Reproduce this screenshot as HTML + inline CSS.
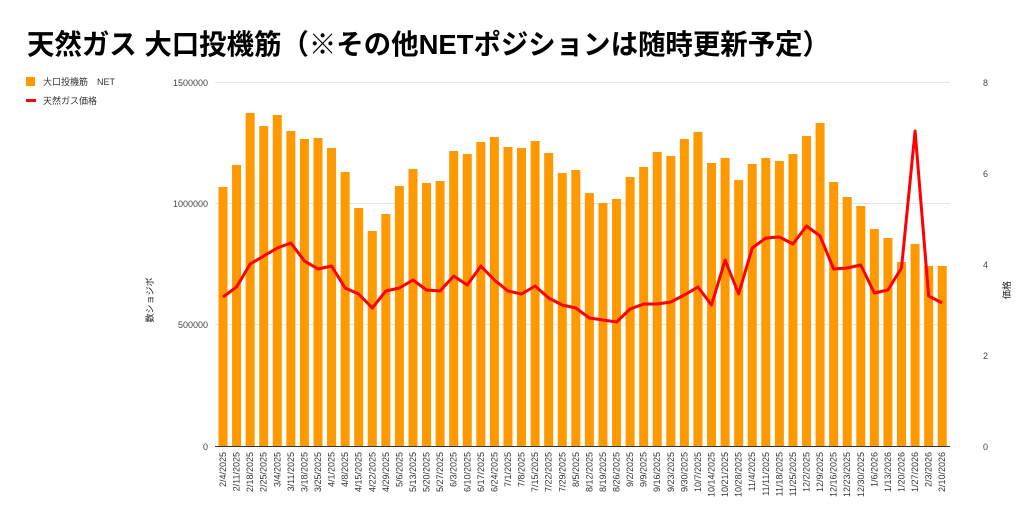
<!DOCTYPE html>
<html><head><meta charset="utf-8"><style>
html,body{margin:0;padding:0;background:#fff;}
svg{display:block;font-family:"Liberation Sans","Noto Sans CJK JP",sans-serif;}
</style></head><body>
<svg width="1024" height="527" viewBox="0 0 1024 527" xmlns="http://www.w3.org/2000/svg">
<text x="27" y="54" font-size="28" font-weight="bold" fill="#000" textLength="803" lengthAdjust="spacingAndGlyphs">天然ガス 大口投機筋（※その他NETポジションは随時更新予定）</text>
<rect x="26" y="77" width="9" height="9" fill="#ff9900"/>
<text x="43" y="85" font-size="9" fill="#333">大口投機筋　NET</text>
<rect x="26" y="99" width="10" height="3" fill="#ff0000"/>
<text x="43" y="104" font-size="9" fill="#333">天然ガス価格</text>
<g stroke="#e6e6e6" stroke-width="1">
<line x1="215" y1="82.5" x2="950" y2="82.5"/>
<line x1="215" y1="203.5" x2="950" y2="203.5"/>
<line x1="215" y1="324.5" x2="950" y2="324.5"/>
</g>
<line x1="215" y1="446.5" x2="950" y2="446.5" stroke="#333" stroke-width="1"/>
<g font-size="9" fill="#444" text-anchor="end">
<text x="208" y="86">1500000</text>
<text x="208" y="207">1000000</text>
<text x="208" y="328">500000</text>
<text x="208" y="450">0</text>
</g>
<g font-size="9" fill="#444">
<text x="983" y="86">8</text>
<text x="983" y="177">6</text>
<text x="983" y="268">4</text>
<text x="983" y="359">2</text>
<text x="983" y="450">0</text>
</g>
<text transform="translate(153,300) rotate(-90)" font-size="9" fill="#222" text-anchor="middle">数ショジボ</text>
<text transform="translate(1010,290) rotate(-90)" font-size="9" fill="#222" text-anchor="middle">価格</text>
<g id="bars" fill="#ff9900"></g>
<g id="labels" font-size="9" fill="#333"></g>
<polyline id="line" fill="none" stroke="#ff0000" stroke-width="3" stroke-linejoin="round"/>
</svg>
<script>
var dates="2/4/2025,2/11/2025,2/18/2025,2/25/2025,3/4/2025,3/11/2025,3/18/2025,3/25/2025,4/1/2025,4/8/2025,4/15/2025,4/22/2025,4/29/2025,5/6/2025,5/13/2025,5/20/2025,5/27/2025,6/3/2025,6/10/2025,6/17/2025,6/24/2025,7/1/2025,7/8/2025,7/15/2025,7/22/2025,7/29/2025,8/5/2025,8/12/2025,8/19/2025,8/26/2025,9/2/2025,9/9/2025,9/16/2025,9/23/2025,9/30/2025,10/7/2025,10/14/2025,10/21/2025,10/28/2025,11/4/2025,11/11/2025,11/18/2025,11/25/2025,12/2/2025,12/9/2025,12/16/2025,12/23/2025,12/30/2025,1/6/2026,1/13/2026,1/20/2026,1/27/2026,2/3/2026,2/10/2026".split(",");
var tops=[187,165,113,126,115,131,139,138,148,172,208,231,214,186,169,183,181,151,154,142,137,147,148,141,153,173,170,193,203,199,177,167,152,156,139,132,163,158,180,164,158,161,154,136,123,182,197,206,229,238,262,244,266,266];
var ly=[297,287,264,256,248,243,261,269,266,288,294,308,291,288,280,290,291,276,285,266,280,291,294,286,298,305,308,318,320,322,309,304,304,302,295,287,305,260,294,248,238,237,244,226,236,269,268,265,293,290,268,131,296,303];
var NS="http://www.w3.org/2000/svg",b=document.getElementById("bars"),l=document.getElementById("labels"),pts=[];
for(var i=0;i<54;i++){var cx=223+i*13.57;
var r=document.createElementNS(NS,"rect");r.setAttribute("x",cx-4.5);r.setAttribute("y",tops[i]);r.setAttribute("width",9);r.setAttribute("height",446-tops[i]);b.appendChild(r);
var t=document.createElementNS(NS,"text");t.setAttribute("transform","translate("+(cx+3)+",452) rotate(-90)");t.setAttribute("text-anchor","end");t.textContent=dates[i];l.appendChild(t);
pts.push(cx+","+ly[i]);}
document.getElementById("line").setAttribute("points",pts.join(" "));
</script>
</body></html>
